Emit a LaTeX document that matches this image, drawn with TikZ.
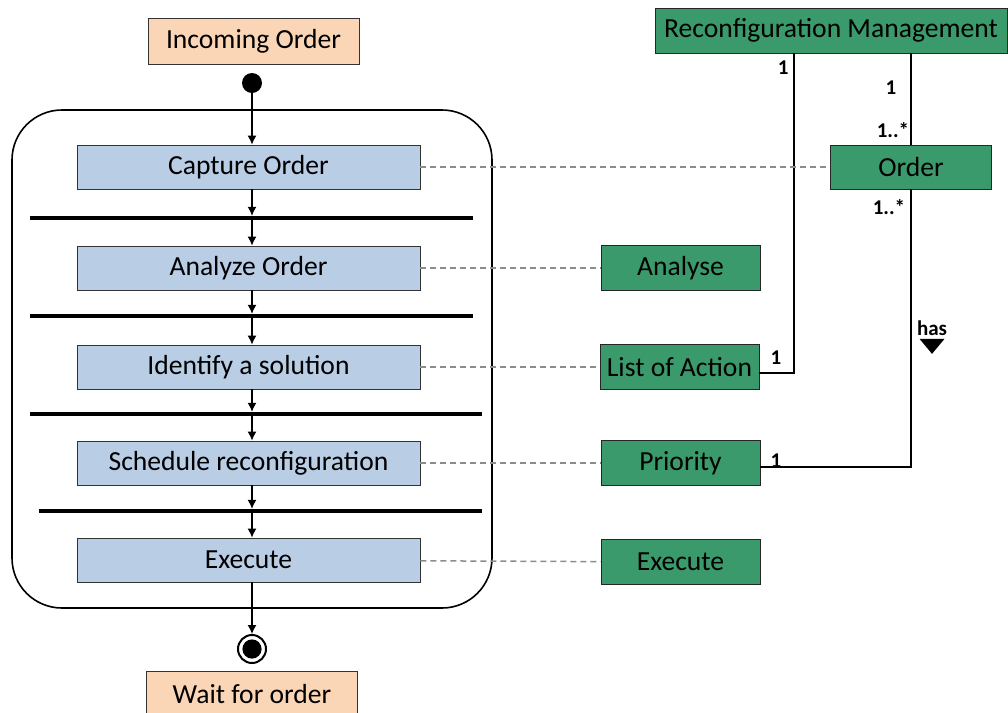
\documentclass[tikz,border=0pt]{standalone}
\usepackage{fontspec}
\setmainfont{Carlito}
\usepackage{xcolor}
\usetikzlibrary{arrows.meta, positioning, calc}

\definecolor{actblue}{RGB}{185,205,229}
\definecolor{umlgreen}{RGB}{58,154,107}
\definecolor{peach}{RGB}{251,214,182}

\begin{document}
\begin{tikzpicture}[
    x=0.5pt, y=-0.5pt,
    >={Latex[length=4.5pt,width=4.5pt]},
    font=\fontsize{13.8}{16}\selectfont,
    actnode/.style={rectangle, draw=black!80, fill=actblue, text centered, minimum width=171.5pt, minimum height=22pt, inner sep=0pt},
    classnode/.style={rectangle, draw=black!85, fill=umlgreen, text centered, minimum width=79.5pt, minimum height=22.5pt, inner sep=0pt},
    eventnode/.style={rectangle, draw=black!80, fill=peach, text centered, minimum width=105.5pt, minimum height=23pt, inner sep=0pt},
    barnode/.style={rectangle, fill=black, minimum height=1.8pt, inner sep=0pt},
    multnode/.style={font=\fontsize{10.5}{12}\selectfont\bfseries, inner sep=0pt},
    flow/.style={->, line width=0.65pt},
    tracenode/.style={draw=black!45, dashed, dash pattern=on 3pt off 2pt, line width=0.75pt}
  ]
  \useasboundingbox (0,0) rectangle (1008,713);

  % Activity flow
  \node[eventnode] (incoming) at (253.5,41) {Incoming Order};
  \node[circle, fill=black, minimum size=10pt, inner sep=0pt] (start) at (252,83) {};
  \node[draw, line width=0.8pt, rounded corners=25pt, minimum width=240pt, minimum height=249pt] (region) at (252,359) {};

  \node[actnode] (capture) at (248.5,167) {Capture Order};
  \node[barnode, minimum width=221.5pt] (bar1) at (251.5,218) {};
  \node[actnode] (analyze) at (248.5,268) {Analyze Order};
  \node[barnode, minimum width=221.5pt] (bar2) at (251.5,316) {};
  \node[actnode] (identify) at (248.5,367) {Identify a solution};
  \node[barnode, minimum width=226pt] (bar3) at (256,414) {};
  \node[actnode] (schedule) at (248.5,463) {Schedule reconfiguration};
  \node[barnode, minimum width=221.5pt] (bar4) at (260.5,511) {};
  \node[actnode] (execblue) at (248.5,560) {Execute};

  \node[circle, draw, line width=1pt, minimum size=14pt, inner sep=0pt] (stop) at (252,649) {};
  \fill (stop.center) circle (4.8pt);
  \node[eventnode] (wait) at (252,694) {Wait for order};

  \draw[flow] (start) -- (start |- capture.north);
  \draw[flow] (start |- capture.south) -- (start |- bar1.north);
  \draw[flow] (start |- bar1.south) -- (start |- analyze.north);
  \draw[flow] (start |- analyze.south) -- (start |- bar2.north);
  \draw[flow] (start |- bar2.south) -- (start |- identify.north);
  \draw[flow] (start |- identify.south) -- (start |- bar3.north);
  \draw[flow] (start |- bar3.south) -- (start |- schedule.north);
  \draw[flow] (start |- schedule.south) -- (start |- bar4.north);
  \draw[flow] (start |- bar4.south) -- (start |- execblue.north);
  \draw[flow] (start |- execblue.south) -- (stop);

  % Class side
  \node[classnode, minimum width=176pt] (reconf) at (831,30.5) {Reconfiguration Management};
  \node[classnode, minimum width=80.5pt, minimum height=22pt] (order) at (911,167) {Order};
  \node[classnode] (analyse) at (680.5,268) {Analyse};
  \node[classnode] (actions) at (679.5,367) {List of Action};
  \node[classnode] (priority) at (680.5,463) {Priority};
  \node[classnode] (execgreen) at (680.5,562) {Execute};

  \draw[line width=0.75pt] ([xshift=-18.5pt]reconf.south) |- ([yshift=-3pt]actions.east);
  \draw[line width=0.75pt] (reconf.south -| order.north) -- (order.north);
  \draw[line width=0.75pt] (order.south) |- ([yshift=-2pt]priority.east);

  \node[multnode, anchor=east] (m1) at (789,68) {1};
  \node[multnode] (m2) at (891,88) {1};
  \node[multnode] (m3) at (893,130) {1..*};
  \node[multnode] (m4) at (889,207) {1..*};
  \node[multnode] (has) at (932,328) {has};
  \fill (has.south) ++(-12.5,3) -- ++(25,0) -- ++(-12.5,15) -- cycle;
  \node[multnode] (m5) at (776,358) {1};
  \node[multnode] (m6) at (776,461) {1};

  % Traces
  \draw[tracenode] (capture) -- (order);
  \draw[tracenode] (analyze) -- (analyse);
  \draw[tracenode] (identify) -- (actions);
  \draw[tracenode] (schedule) -- (priority);
  \draw[tracenode] (execblue) -- (execgreen);

\end{tikzpicture}
\end{document}
